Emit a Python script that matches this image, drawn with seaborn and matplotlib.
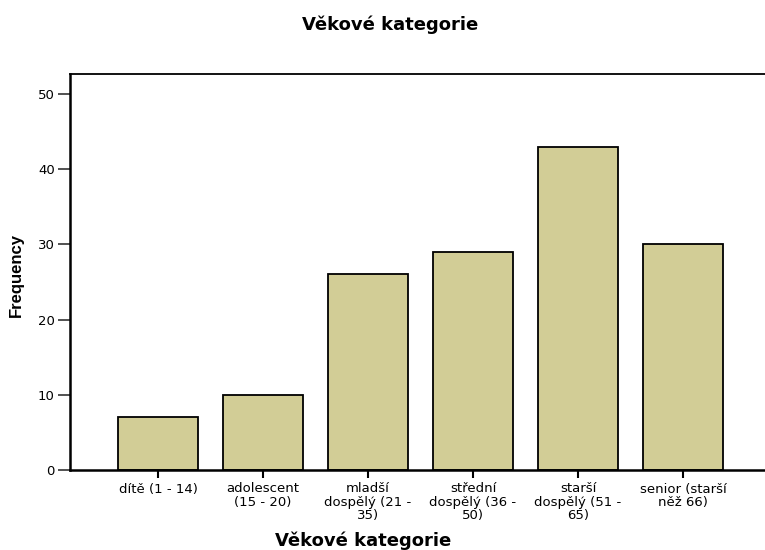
import pandas as pd
import seaborn as sns
import matplotlib.pyplot as plt

# age-category frequencies
categories = ["dítě (1 - 14)", "adolescent\n(15 - 20)", "mladší\ndospělý (21 -\n35)",
              "střední\ndospělý (36 -\n50)", "starší\ndospělý (51 -\n65)", "senior (starší\nněž 66)"]
frequency = [7, 10, 26, 29, 43, 30]
yticks = [0, 10, 20, 30, 40, 50]

df = pd.DataFrame({"kategorie": categories, "freq": frequency})

sns.set_style("white")
plt.rcParams["font.family"] = ["DejaVu Sans"]
plt.rcParams["text.color"] = "black"
plt.rcParams["xtick.color"] = "black"
plt.rcParams["ytick.color"] = "black"

fig = plt.figure(figsize=(7.65, 5.5), dpi=100)
ax = fig.add_axes([70 / 765, 80 / 550, 695 / 765, 396 / 550])

sns.barplot(data=df, x="kategorie", y="freq", color="#d2cd96", saturation=1,
            edgecolor="black", linewidth=1.3, width=0.76, ax=ax)

ax.set_xlim(-0.838, 5.781)
ax.set_ylim(0, 52.66)
ax.set_yticks(yticks)
ax.set_xlabel("")
ax.set_ylabel("")
ax.tick_params(axis="y", direction="out", length=9, width=1.2, pad=2,
               labelsize=9.5, left=True, color="#333333", labelcolor="black")
ax.tick_params(axis="x", direction="out", length=6, width=1.5, pad=3,
               labelsize=9.5, bottom=True, color="black", labelcolor="black")
for lab in ax.get_xticklabels():
    lab.set_multialignment("center")
    lab.set_linespacing(1.05)

ax.spines["right"].set_visible(False)
ax.spines["left"].set_linewidth(1.8)
ax.spines["bottom"].set_linewidth(1.8)
ax.spines["top"].set_linewidth(1.3)
for s in ["left", "bottom", "top"]:
    ax.spines[s].set_color("black")

fig.text(390 / 765, 1 - 25 / 550, "Věkové kategorie", ha="center", va="center",
         fontsize=13, fontweight="bold", color="black")
fig.text(363 / 765, 1 - 541 / 550, "Věkové kategorie", ha="center", va="center",
         fontsize=13, fontweight="bold", color="black")
fig.text(16 / 765, 0.5, "Frequency", ha="center", va="center", rotation=90,
         fontsize=12, fontweight="bold", color="black",
         family=["Liberation Sans", "DejaVu Sans"])

fig.savefig("out.png", dpi=100)
